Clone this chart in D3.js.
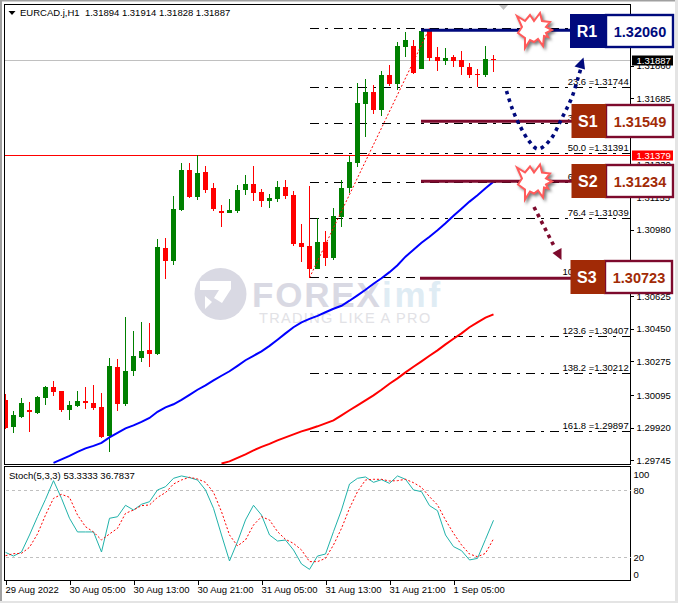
<!DOCTYPE html>
<html>
<head>
<meta charset="utf-8">
<script src="https://cdn.jsdelivr.net/npm/d3@7"></script>
<style>
  html, body { margin: 0; padding: 0; background: #fff; }
  svg { display: block; font-family: "Liberation Sans", sans-serif; }
  .axis path, .axis line { stroke: #000; shape-rendering: crispEdges; }
  .axis text { fill: #000; font-size: 9.5px; font-family: "Liberation Sans", sans-serif; }
</style>
</head>
<body>
<div class="chart"></div>
<script>
var opens = [1.30070,1.29921,1.29979,1.30013,1.29997,1.30077,1.30136,1.30114,1.30013,1.30034,1.30061,1.30050,1.30029,1.29873,1.30243,1.30045,1.30222,1.30291,1.30334,1.30313,1.30881,1.30812,1.31085,1.31299,1.31155,1.31289,1.31203,1.31080,1.31069,1.31080,1.31192,1.31224,1.31181,1.31133,1.31144,1.31208,1.31165,1.30908,1.30892,1.30769,1.30913,1.30828,1.31047,1.31203,1.31337,1.31653,1.31718,1.31621,1.31809,1.31761,1.31959,1.31964,1.31841,1.32050,1.31905,1.31884,1.31905,1.31889,1.31852,1.31814,1.31809,1.31894];
var highs = [1.30098,1.30007,1.30077,1.30055,1.30088,1.30141,1.30168,1.30114,1.30061,1.30114,1.30136,1.30147,1.30104,1.30291,1.30286,1.30511,1.30436,1.30484,1.30479,1.30929,1.30935,1.31160,1.31337,1.31337,1.31380,1.31321,1.31230,1.31112,1.31144,1.31219,1.31273,1.31321,1.31198,1.31171,1.31240,1.31246,1.31187,1.31010,1.31214,1.31042,1.30972,1.31096,1.31246,1.31375,1.31766,1.31787,1.31755,1.31830,1.31862,1.31986,1.32039,1.31997,1.32045,1.32050,1.31959,1.31954,1.31916,1.31938,1.31873,1.31841,1.31964,1.31914];
var lows = [1.29911,1.29889,1.29973,1.29895,1.29991,1.30039,1.30088,1.30002,1.29959,1.30029,1.30018,1.30013,1.29862,1.29787,1.30007,1.30034,1.30195,1.30270,1.30243,1.30307,1.30715,1.30790,1.31080,1.31149,1.31139,1.31176,1.31080,1.30994,1.31069,1.31069,1.31165,1.31133,1.31101,1.31096,1.31128,1.31144,1.30892,1.30806,1.30720,1.30769,1.30785,1.30817,1.30994,1.31176,1.31316,1.31476,1.31600,1.31589,1.31750,1.31728,1.31905,1.31814,1.31841,1.31884,1.31830,1.31862,1.31852,1.31809,1.31793,1.31745,1.31798,1.31828];
var closes = [1.29920,1.29986,1.30050,1.30002,1.30082,1.30136,1.30109,1.30013,1.30039,1.30061,1.30050,1.30023,1.29868,1.30249,1.30045,1.30222,1.30302,1.30329,1.30313,1.30887,1.30812,1.31090,1.31299,1.31155,1.31283,1.31192,1.31090,1.31069,1.31085,1.31192,1.31224,1.31176,1.31133,1.31149,1.31208,1.31160,1.30903,1.30887,1.30769,1.30913,1.30828,1.31053,1.31203,1.31342,1.31659,1.31718,1.31621,1.31809,1.31761,1.31964,1.31997,1.31820,1.32045,1.31900,1.31884,1.31900,1.31884,1.31852,1.31809,1.31809,1.31895,1.31887];

// moving averages, last value sits on the last bar
var maBlue = [1.29731,1.29750,1.29769,1.29790,1.29809,1.29822,1.29838,1.29868,1.29892,1.29916,1.29932,1.29951,1.29972,1.30005,1.30029,1.30045,1.30069,1.30096,1.30123,1.30147,1.30173,1.30198,1.30222,1.30251,1.30281,1.30305,1.30329,1.30358,1.30391,1.30425,1.30458,1.30484,1.30503,1.30519,1.30538,1.30557,1.30573,1.30600,1.30629,1.30659,1.30691,1.30720,1.30753,1.30790,1.30836,1.30873,1.30911,1.30943,1.30978,1.31015,1.31055,1.31093,1.31131,1.31165,1.31203,1.31238];
var maRed = [1.29728,1.29739,1.29758,1.29777,1.29798,1.29817,1.29833,1.29852,1.29868,1.29884,1.29900,1.29913,1.29927,1.29943,1.29959,1.29986,1.30013,1.30039,1.30066,1.30093,1.30123,1.30155,1.30184,1.30216,1.30246,1.30275,1.30305,1.30334,1.30366,1.30396,1.30425,1.30458,1.30484,1.30509,1.30527];

var stochMain = [24.7,21.4,25,40.2,56.5,72,88.7,72.9,55.1,42.9,42.9,42.9,25,55.1,56.5,66.7,62.5,67.6,69.9,80.4,83.3,90.8,92.9,91.4,89.3,80.4,64,40.2,17,34.2,53.6,66.7,58,40.2,34.8,35.7,26.8,14.3,9.5,21.4,23.2,43.2,62.5,85.7,90.8,92,87.2,89.6,86.3,92.9,89.9,80.4,78.9,66.4,61.9,40.2,29.8,26.2,17.9,19.3,36.3,53.33];
var stochSignal = [21.7,23.5,23.8,29.2,41.1,58,72.9,76.5,73.8,58,47.6,42.9,35.7,41.1,46.1,59.5,62.5,66.4,67,73.8,78,85.7,89.3,91.7,90.2,87.2,78.3,61,40.2,30.4,35.7,49.1,56.5,53.6,43.2,36.3,32.7,26.8,16.4,16.4,19.3,31.3,46.1,64,78.9,89.3,89.9,89.9,88.4,88.7,89.9,86.9,82.7,74.4,67,53.6,41.7,31.3,23.2,20.8,23.8,36.78];

var fibPcts = ['0.0','23.6','38.2','50.0','61.8','76.4','100.0','123.6','138.2','161.8'];
var fibPrices = [1.32060,1.31744,1.31549,1.31391,1.31234,1.31039,1.30723,1.30407,1.30212,1.29897];
var fibBars = [38, 53];

var priceTicks = [1.31860,1.31685,1.31505,1.31330,1.31155,1.30980,1.30800,1.30625,1.30450,1.30275,1.30095,1.29920,1.29745];
var stochTicks = [100,80,20,0];
var timeTickBars = [0,8,16,24,32,40,48,56];
var timeTickLabels = ['29 Aug 2022','30 Aug 05:00','30 Aug 13:00','30 Aug 21:00','31 Aug 05:00','31 Aug 13:00','31 Aug 21:00','1 Sep 05:00'];

var levelNames = ['R1','S1','S2','S3'];
var levelValues = ['1.32060','1.31549','1.31234','1.30723'];

var bidPrice = 1.31887, askPrice = 1.31379;

var width = 678, height = 603;
var leftX = 4.5, rightX = 630.5, topY = 4.5, mainBottom = 464.5, subTop = 466.5, subBottom = 580.5;

var svg = d3.select('.chart').append('svg')
  .attr('width', width)
  .attr('height', height);

var x = d3.scaleLinear().domain([0, 61]).range([5.5, 493.5]);
var y = d3.scaleLinear().domain([1.30, 1.32]).range([412.7, 39.4]);
var yStoch = d3.scaleLinear().domain([0, 100]).range([580, 468]);

svg.append('defs').append('clipPath').attr('id', 'main-clip')
  .append('rect')
  .attr('x', leftX + 0.5).attr('y', topY + 0.5)
  .attr('width', rightX - leftX - 0.5).attr('height', mainBottom - topY - 0.5);

// window edges
svg.append('rect').attr('x', 0).attr('y', 0).attr('width', 2).attr('height', height).attr('fill', '#a0a0a0');
svg.append('rect').attr('x', 0).attr('y', 0).attr('width', width).attr('height', 1.5).attr('fill', '#a0a0a0');
svg.append('rect').attr('x', 675).attr('y', 0).attr('width', 3).attr('height', height).attr('fill', '#e4e4e4');
svg.append('rect').attr('x', 0).attr('y', 601).attr('width', width).attr('height', 2).attr('fill', '#e4e4e4');

// watermark
var mark = svg.append('g').attr('class', 'watermark');
mark.append('circle').attr('cx', 220.5).attr('cy', 294).attr('r', 26).attr('fill', '#d9d9e3');
mark.append('path')
  .attr('d', 'M200,281 L231,281 L231,289 L222,303 L214,298 L219,290 L200,290 Z M205,296 L212,302 L205,309 Z')
  .attr('fill', '#fff');
mark.append('text').attr('x', 252).attr('y', 307)
  .attr('font-size', 35).attr('font-weight', 'bold').attr('letter-spacing', 1.8)
  .attr('fill', '#d9d9e3').text('FOREX');
mark.append('text').attr('x', 382).attr('y', 307)
  .attr('font-size', 35).attr('font-weight', 'bold').attr('letter-spacing', 2.8)
  .attr('fill', '#dfecf4').text('imf');
mark.append('text').attr('x', 259).attr('y', 323)
  .attr('font-size', 14.5).attr('letter-spacing', 1.35)
  .attr('fill', '#e2e2e6').text('TRADING LIKE A PRO');

var main = svg.append('g').attr('clip-path', 'url(#main-clip)');

// bid and ask lines
main.append('line').attr('x1', leftX).attr('x2', rightX).attr('y1', 60.5).attr('y2', 60.5)
  .attr('stroke', '#c0c0c0').style('shape-rendering', 'crispEdges');
main.append('line').attr('x1', leftX).attr('x2', rightX).attr('y1', 155.5).attr('y2', 155.5)
  .attr('stroke', '#ff0000').style('shape-rendering', 'crispEdges');

// fibonacci levels
main.selectAll('.fib-line').data(fibPrices).enter().append('line')
  .attr('class', 'fib-line')
  .attr('x1', x(fibBars[0])).attr('x2', rightX)
  .attr('y1', function (d) { return Math.floor(y(d)) + 0.5; })
  .attr('y2', function (d) { return Math.floor(y(d)) + 0.5; })
  .attr('stroke', '#000')
  .attr('stroke-dasharray', '9,6,3,6')
  .style('shape-rendering', 'crispEdges');

main.selectAll('.fib-label').data(fibPrices).enter().append('text')
  .attr('class', 'fib-label')
  .attr('x', 628.7)
  .attr('y', function (d) { return Math.floor(y(d)) - 2; })
  .attr('text-anchor', 'end')
  .attr('font-size', 9.5)
  .attr('fill', '#000')
  .text(function (d, i) { return fibPcts[i] + ' =' + d.toFixed(5); });

// candles
var bars = d3.range(opens.length);
var candle = main.selectAll('.candle').data(bars).enter().append('g')
  .attr('class', 'candle')
  .attr('fill', function (i) { return closes[i] > opens[i] ? '#008000' : '#ff0000'; })
  .attr('stroke', function (i) { return closes[i] > opens[i] ? '#008000' : '#ff0000'; })
  .style('shape-rendering', 'crispEdges');

candle.append('line')
  .attr('x1', function (i) { return x(i); })
  .attr('x2', function (i) { return x(i); })
  .attr('y1', function (i) { return Math.round(y(highs[i])); })
  .attr('y2', function (i) { return Math.round(y(lows[i])); });

candle.append('rect')
  .attr('x', function (i) { return x(i) - 2.5; })
  .attr('y', function (i) { return Math.round(y(Math.max(opens[i], closes[i]))); })
  .attr('width', 5)
  .attr('height', function (i) {
    return Math.max(1, Math.round(y(Math.min(opens[i], closes[i]))) - Math.round(y(Math.max(opens[i], closes[i]))));
  })
  .attr('stroke', 'none');

// fibonacci trend line
main.append('line')
  .attr('x1', x(fibBars[0])).attr('y1', y(fibPrices[6]))
  .attr('x2', x(fibBars[1])).attr('y2', y(fibPrices[0]))
  .attr('stroke', '#ff0000')
  .attr('stroke-dasharray', '2,2');

// moving averages
var maLine = d3.line()
  .x(function (d) { return x(d[0]); })
  .y(function (d) { return y(d[1]); });

function alignRight(values) {
  var offset = opens.length - values.length;
  return values.map(function (v, i) { return [i + offset, v]; });
}

main.append('path').datum(alignRight(maBlue))
  .attr('d', maLine).attr('fill', 'none').attr('stroke', '#0000ff').attr('stroke-width', 2);
main.append('path').datum(alignRight(maRed))
  .attr('d', maLine).attr('fill', 'none').attr('stroke', '#ff0000').attr('stroke-width', 2);

// frames
svg.append('rect').attr('x', leftX).attr('y', topY)
  .attr('width', rightX - leftX).attr('height', mainBottom - topY)
  .attr('fill', 'none').attr('stroke', '#000').style('shape-rendering', 'crispEdges');
svg.append('rect').attr('x', leftX).attr('y', subTop)
  .attr('width', rightX - leftX).attr('height', subBottom - subTop)
  .attr('fill', 'none').attr('stroke', '#000').style('shape-rendering', 'crispEdges');

// chart shift marker and title
svg.append('path').attr('d', 'M499,5 L508,5 L503.5,10 Z').attr('fill', '#c0c0c0');
svg.append('path').attr('d', 'M8.5,11 L15.5,11 L12,15 Z').attr('fill', '#000');
svg.append('text').attr('x', 20).attr('y', 16).attr('font-size', 9.5).attr('fill', '#000')
  .attr('xml:space', 'preserve')
  .text('EURCAD.j,H1  1.31894 1.31914 1.31828 1.31887');

// price axis
svg.append('g').attr('class', 'axis')
  .attr('transform', 'translate(' + rightX + ',0)')
  .call(d3.axisRight(y).tickValues(priceTicks).tickSize(3).tickSizeOuter(0).tickPadding(3)
    .tickFormat(function (d) { return d.toFixed(5); }))
  .call(function (g) { g.select('.domain').remove(); });

// bid and ask tags
[[bidPrice, 60.5, '#000'], [askPrice, 155.5, '#ff0000']].forEach(function (t) {
  svg.append('rect').attr('x', 632).attr('y', t[1] - 5).attr('width', 41).attr('height', 10).attr('fill', t[2]);
  svg.append('text').attr('x', 636.5).attr('y', t[1] + 3.5).attr('font-size', 9.5).attr('fill', '#fff')
    .text(t[0].toFixed(5));
});

// stochastic window
var sub = svg.append('g');
sub.selectAll('.stoch-level').data([80, 20]).enter().append('line')
  .attr('class', 'stoch-level')
  .attr('x1', leftX + 1).attr('x2', rightX)
  .attr('y1', function (d) { return Math.floor(yStoch(d)) + 0.5; })
  .attr('y2', function (d) { return Math.floor(yStoch(d)) + 0.5; })
  .attr('stroke', '#c0c0c0')
  .attr('stroke-dasharray', '3,3')
  .style('shape-rendering', 'crispEdges');

var stochLine = d3.line()
  .x(function (d, i) { return x(i); })
  .y(function (d) { return yStoch(d); });

sub.append('path').datum(stochMain).attr('d', stochLine)
  .attr('fill', 'none').attr('stroke', '#20b2aa').attr('stroke-width', 1);
sub.append('path').datum(stochSignal).attr('d', stochLine)
  .attr('fill', 'none').attr('stroke', '#ff0000').attr('stroke-width', 1).attr('stroke-dasharray', '2,2');

sub.append('text').attr('x', 9).attr('y', 479).attr('font-size', 9.5).attr('fill', '#000')
  .text('Stoch(5,3,3) 53.3333 36.7837');

svg.append('g').attr('class', 'axis')
  .attr('transform', 'translate(' + rightX + ',0)')
  .call(d3.axisRight(yStoch).tickValues(stochTicks).tickSize(0).tickPadding(3))
  .call(function (g) {
    g.select('.domain').remove();
    g.selectAll('.tick text').attr('dy', function (d) {
      return d === 100 ? '1.0em' : d === 0 ? '-0.3em' : '0.32em';
    });
  });

// time axis
svg.append('g').attr('class', 'axis time')
  .attr('transform', 'translate(0,' + subBottom + ')')
  .call(d3.axisBottom(x).tickValues(timeTickBars).tickSize(4).tickSizeOuter(0).tickPadding(2)
    .tickFormat(function (d, i) { return timeTickLabels[i]; }))
  .call(function (g) {
    g.select('.domain').remove();
    g.selectAll('.tick text').attr('text-anchor', 'start').attr('dx', -0.5);
  });

// level bars drawn over the chart
var levelColors = ['#000a7d', '#7d0a2d', '#7d0a2d', '#7d0a2d'];
var levelNudge = [2, -2.3, -1, 0.5];
levelValues.forEach(function (v, i) {
  var py = y(+v) + levelNudge[i];
  svg.append('line')
    .attr('x1', i === 3 ? 420 : 421).attr('x2', 575)
    .attr('y1', py).attr('y2', py)
    .attr('stroke', levelColors[i]).attr('stroke-width', 3);
});

// burst marks at the R1 and S2 lines
var burstPts = [[-17,-14],[-9,-9],[-4,-15],[0,-9],[6,-17],[8,-9],[16,-8],[12,-3],[18,0],[12,3],[14,7],[10,6],[9,16],[4,9],[0,12],[-4,10],[-9,18],[-9,8],[-16,3],[-12,-3]];
[[534, 30], [534, 181.5]].forEach(function (c) {
  svg.append('polygon')
    .attr('points', burstPts.map(function (p) { return (c[0] + p[0]) + ',' + (c[1] + p[1]); }).join(' '))
    .attr('fill', '#fff')
    .attr('stroke', '#ff5a5a')
    .attr('stroke-width', 2)
    .style('filter', 'drop-shadow(2px 2px 1.5px rgba(0,0,0,0.5))');
});

// dotted arrows
var curve = d3.line().curve(d3.curveCatmullRom);
svg.append('path')
  .attr('d', curve([[506.5,91],[512,108],[519,124],[529,141],[538,149],[550,140],[562,118],[572,97],[578,78],[581,68]]))
  .attr('fill', 'none').attr('stroke', '#000a7d').attr('stroke-width', 3.6).attr('stroke-dasharray', '3.6,4.2');
svg.append('path').attr('d', 'M574.5,66.5 L585,69.5 L583.5,57.5 Z').attr('fill', '#000a7d');
svg.append('path')
  .attr('d', 'M534,207 L555,248')
  .attr('fill', 'none').attr('stroke', '#7d0a2d').attr('stroke-width', 3.6).attr('stroke-dasharray', '3.6,4.2');
svg.append('path').attr('d', 'M552.5,253 L561.5,248 L561.5,260 Z').attr('fill', '#7d0a2d');

// level boxes
var boxLeft = [570, 571.5, 571.5, 570.5];
var boxTop = [14, 104, 164, 260];
var boxTextColors = ['#000a7d', '#a12a06', '#a12a06', '#a12a06'];
var boxFills = ['#000a7d', '#a12a06', '#a12a06', '#a12a06'];
levelNames.forEach(function (name, i) {
  var g = svg.append('g');
  var t = boxTop[i], l = boxLeft[i];
  var split = i === 3 ? 605 : 606;
  var rightEdge = i === 3 ? 672 : 673;
  g.append('rect').attr('x', split).attr('y', t + 1)
    .attr('width', rightEdge - split).attr('height', 32)
    .attr('fill', '#fff').attr('stroke', levelColors[i]).attr('stroke-width', 2.4);
  g.append('rect').attr('x', l).attr('y', t)
    .attr('width', split - l).attr('height', 34)
    .attr('fill', boxFills[i]);
  g.append('text').attr('x', (l + split) / 2 - 1).attr('y', t + 22.5)
    .attr('text-anchor', 'middle').attr('font-size', 16).attr('font-weight', 'bold')
    .attr('fill', '#fff').text(name);
  g.append('text').attr('x', (split + rightEdge) / 2 + 0.5).attr('y', t + 22.5)
    .attr('text-anchor', 'middle').attr('font-size', 14.5).attr('font-weight', 'bold')
    .attr('fill', boxTextColors[i]).text(levelValues[i]);
});
</script>
</body>
</html>
